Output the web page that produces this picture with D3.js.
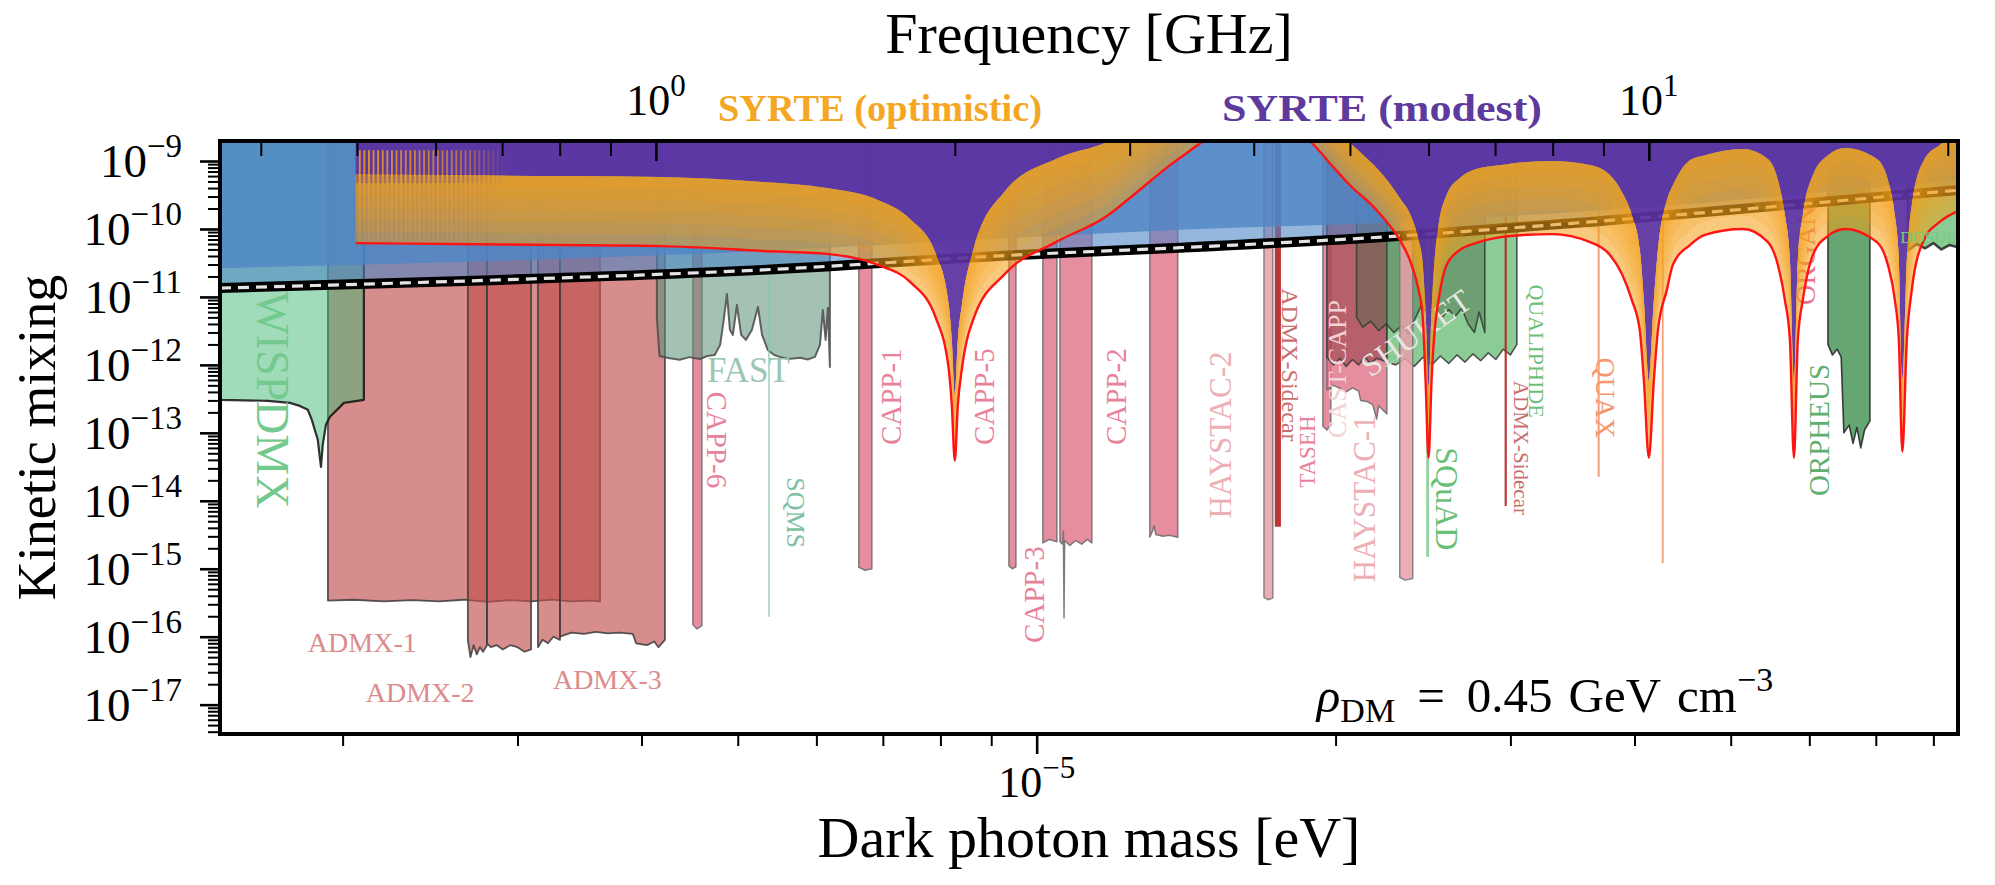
<!DOCTYPE html>
<html>
<head>
<meta charset="utf-8">
<script src="https://cdn.jsdelivr.net/npm/d3@7"></script>
<style>
html,body{margin:0;padding:0;background:#fff;}
svg{display:block;}
text{font-family:"Liberation Serif","Times New Roman",serif;}
</style>
</head>
<body>
<svg id="chart" width="1995" height="885"></svg>
<script>
// ================= DATA =================
const EV_PER_GHZ = 4.135667e-6;
const massDomain = [1.505e-6, 8.47e-5];
const mixingDomain = [3.7e-18, 1.97e-9];
const yMajorExponents = [-9,-10,-11,-12,-13,-14,-15,-16,-17];
const xMajorExponents = [-5];
const topMajorExponents = [0, 1];

// experiment lower boundaries: [mass eV, kinetic mixing]
const admx1 = [[1.933e-6,3.4e-16],[2.05e-6,3.5e-16],[2.2e-6,3.3e-16],[2.35e-6,3.45e-16],[2.5e-6,3.3e-16],[2.65e-6,3.5e-16],[2.8e-6,3.25e-16],[2.95e-6,3.45e-16],[3.1e-6,3.3e-16],[3.25e-6,3.5e-16],[3.4e-6,3.3e-16],[3.55e-6,3.4e-16],[3.633e-6,3.3e-16]];
const admx2a = [[2.674e-6,9e-17],[2.69e-6,5e-17],[2.71e-6,7.5e-17],[2.73e-6,5.5e-17],[2.75e-6,7e-17],[2.77e-6,6e-17],[2.795e-6,7.5e-17]];
const admx2b = [[2.795e-6,8e-17],[2.82e-6,7e-17],[2.86e-6,7.5e-17],[2.9e-6,6.5e-17],[2.95e-6,7.5e-17],[3.0e-6,7e-17],[3.05e-6,6e-17],[3.096e-6,6.5e-17]];
const admx3a = [[3.146e-6,7e-17],[3.18e-6,9e-17],[3.22e-6,8e-17],[3.26e-6,1.0e-16],[3.311e-6,9e-17]];
const admx3b = [[3.311e-6,1.0e-16],[3.4e-6,1.15e-16],[3.5e-6,1.1e-16],[3.6e-6,1.18e-16],[3.7e-6,1.12e-16],[3.8e-6,1.15e-16],[3.92e-6,1.1e-16],[3.95e-6,8e-17],[4.05e-6,7.5e-17],[4.12e-6,8.5e-17],[4.16e-6,7e-17],[4.223e-6,9e-17]];
const wispdmx = [[1.505e-6,3.06e-13],[1.682e-6,2.96e-13],[1.77e-6,2.76e-13],[1.811e-6,2.49e-13],[1.845e-6,2.18e-13],[1.862e-6,1.55e-13],[1.888e-6,7.9e-14],[1.902e-6,3.16e-14],[1.91e-6,6.7e-14],[1.924e-6,1.31e-13],[1.942e-6,1.72e-13],[1.983e-6,2.33e-13],[2.006e-6,2.76e-13],[2.101e-6,3.06e-13]];
const capp6 = [[4.506e-6,1.5e-16],[4.55e-6,1.3e-16],[4.601e-6,1.45e-16]];
const fast = [[4.145e-6,4.9e-12],[4.17e-6,1.35e-12],[4.27e-6,1.25e-12],[4.37e-6,1.19e-12],[4.47e-6,1.3e-12],[4.58e-6,1.22e-12],[4.66e-6,1.35e-12],[4.74e-6,1.4e-12],[4.80e-6,1.97e-12],[4.84e-6,4.6e-12],[4.876e-6,1.1e-11],[4.91e-6,3.3e-12],[4.944e-6,2.76e-12],[4.99e-6,7.6e-12],[5.04e-6,2.76e-12],[5.095e-6,2.33e-12],[5.167e-6,3.3e-12],[5.24e-6,7.1e-12],[5.29e-6,2.76e-12],[5.36e-6,1.66e-12],[5.44e-6,1.4e-12],[5.51e-6,1.31e-12],[5.62e-6,1.22e-12],[5.78e-6,1.27e-12],[5.88e-6,1.2e-12],[5.98e-6,1.31e-12],[6.05e-6,1.97e-12],[6.09e-6,6.4e-12],[6.13e-6,2.33e-12],[6.163e-6,6.9e-12],[6.191e-6,9.3e-13]];
const sqms = [[5.368e-6,1.97e-16],[5.384e-6,1.97e-16]];
const capp1 = [[6.62e-6,1.05e-15],[6.72e-6,0.95e-15],[6.824e-6,1.0e-15]];
const capp5 = [[9.377e-6,1.1e-15],[9.45e-6,1.0e-15],[9.53e-6,1.07e-15]];
const capp3a = [[1.0145e-5,2.4e-15],[1.03e-5,2.7e-15],[1.048e-5,2.5e-15]];
const capp3b = [[1.0555e-5,2.5e-15],[1.062e-5,2.3e-15],[1.064e-5,3.6e-15],[1.0655e-5,1.9e-16],[1.067e-5,2.6e-15],[1.08e-5,2.2e-15],[1.095e-5,2.6e-15],[1.11e-5,2.3e-15],[1.125e-5,2.7e-15],[1.1365e-5,2.4e-15]];
const capp2 = [[1.30e-5,2.9e-15],[1.308e-5,3.6e-15],[1.313e-5,4.3e-15],[1.318e-5,3.2e-15],[1.34e-5,3.0e-15],[1.36e-5,3.1e-15],[1.387e-5,2.9e-15]];
const haystac2 = [[1.694e-5,3.8e-16],[1.71e-5,3.5e-16],[1.729e-5,3.7e-16]];
const sidecar1 = [[1.737e-5,4.15e-15],[1.762e-5,4.15e-15]];
const taseh = [[1.942e-5,1.25e-13],[1.96e-5,1.1e-13],[1.978e-5,1.3e-13]];
const castCapp = [[1.96e-5,4.3e-13],[1.99e-5,5.0e-13],[2.02e-5,4.5e-13],[2.05e-5,4.0e-13],[2.08e-5,4.6e-13],[2.11e-5,4.1e-13],[2.12e-5,3.0e-13],[2.15e-5,2.9e-13],[2.18e-5,2.6e-13],[2.20e-5,1.6e-13],[2.21e-5,2.5e-13],[2.23e-5,2.2e-13],[2.2524e-5,1.9e-13]];
const castCappUpper = [[1.96e-5,1.3e-12],[1.99e-5,1.0e-12],[2.02e-5,1.25e-12],[2.05e-5,0.95e-12],[2.08e-5,1.2e-12],[2.11e-5,1.0e-12],[2.14e-5,1.3e-12],[2.17e-5,1.05e-12],[2.20e-5,1.25e-12],[2.2524e-5,1.1e-12]];
const greenBand = [[2.2524e-5,1.1e-12],[2.3e-5,1.0e-12],[2.35e-5,1.25e-12],[2.4e-5,0.95e-12],[2.45e-5,1.3e-12],[2.5e-5,1.0e-12],[2.55e-5,1.35e-12],[2.6e-5,1.05e-12],[2.65e-5,1.4e-12],[2.7e-5,1.1e-12],[2.75e-5,1.45e-12],[2.8e-5,1.15e-12],[2.85e-5,1.5e-12],[2.9e-5,1.2e-12],[2.95e-5,1.7e-12],[3.0e-5,1.4e-12],[3.045e-5,2.0e-12]];
const shuket = [[2.10e-5,5.0e-12],[2.13e-5,3.6e-12],[2.17e-5,4.4e-12],[2.21e-5,3.2e-12],[2.25e-5,4.0e-12],[2.29e-5,3.0e-12],[2.33e-5,3.8e-12],[2.37e-5,2.8e-12],[2.40e-5,4.5e-12],[2.44e-5,7.5e-12],[2.48e-5,5.5e-12],[2.52e-5,7.0e-12],[2.56e-5,5.0e-12],[2.60e-5,6.5e-12],[2.64e-5,5.2e-12],[2.68e-5,6.8e-12],[2.72e-5,4.0e-12],[2.76e-5,3.0e-12],[2.79e-5,6.0e-12],[2.827e-5,3.0e-12]];
const haystac1 = [[2.321e-5,7.5e-16],[2.35e-5,6.8e-16],[2.392e-5,7.2e-16]];
const squad = [[2.468e-5,1.5e-15],[2.484e-5,1.5e-15]];
const sidecar2 = [[2.96e-5,8.4e-15],[2.975e-5,8.4e-15]];
const quax1 = [[3.672e-5,2.25e-14],[3.69e-5,2.25e-14]];
const quax2 = [[4.262e-5,1.22e-15],[4.28e-5,1.22e-15]];
const orpheus = [[6.265e-5,2.0e-12],[6.33e-5,1.4e-12],[6.4e-5,1.7e-12],[6.46e-5,1.3e-12],[6.5e-5,1.0e-13],[6.58e-5,1.3e-13],[6.64e-5,7e-14],[6.7e-5,1.2e-13],[6.76e-5,6e-14],[6.82e-5,1.1e-13],[6.905e-5,1.5e-13]];
const dosue = [[7.54e-5,4.8e-11],[7.7e-5,6.0e-11],[7.85e-5,5.2e-11],[8.0e-5,6.2e-11],[8.15e-5,5.0e-11],[8.3e-5,5.8e-11],[8.5e-5,5.3e-11]];

// astrophysical / cosmological bound (blue) edges
const blueBandEdge = [[1.505e-6,1.35e-11],[2.88e-6,1.78e-11],[5.30e-6,2.5e-11],[9.57e-6,4.15e-11],[1.394e-5,5.3e-11],[2.321e-5,7.9e-11],[3.607e-5,1.27e-10],[8.5e-5,3.75e-10]];
const blueUpperEdge = [[1.505e-6,2.67e-11],[2.88e-6,3.4e-11],[5.30e-6,4.75e-11],[9.57e-6,7.4e-11],[1.394e-5,9.7e-11],[2.321e-5,1.27e-10],[3.607e-5,1.84e-10],[8.5e-5,5.3e-10]];

// SYRTE projection (frequency GHz)
const syrteFreqGHz = [0.4985,0.6204,0.8005,1.014,1.2814,1.4864,1.6733,1.8029,1.914,1.972,1.986,2.0,2.014,2.033,2.09,2.2463,2.5283,2.8459,3.0014,3.294,3.5469,3.9656,4.5566,4.8395,5.001,5.2845,5.4462,5.6131,5.754,5.862,5.917,5.958,6.0,6.042,6.084,6.141,6.256,6.4512,6.6953,7.0948,7.535,7.9875,8.7232,9.1363,9.3954,9.6136,9.7936,9.8846,10.0,10.117,10.211,10.426,10.572,10.997,11.387,12.436,13.179,13.488,13.709,13.869,14.0,14.126,14.291,14.628,15.148,15.758,16.967,17.407,17.691,17.855,18.0,18.188,18.4,18.922,19.633,20.6];
const syrteOptimistic = [6.2e-11,6.0e-11,5.8e-11,5.6e-11,4.75e-11,4.3e-11,2.96e-11,1.66e-11,4.9e-12,8.7e-13,2.58e-13,3.9e-14,2.58e-13,8.7e-13,4.9e-12,2.18e-11,6.4e-11,1.55e-10,2.86e-10,8.7e-10,1.9e-9,6.7e-9,1.97e-9,7.4e-10,4.4e-10,2.1e-10,1.27e-10,6.9e-11,3.27e-11,1.27e-11,5.4e-12,6.0e-13,4.3e-14,6.0e-13,3.16e-12,9.0e-12,2.96e-11,4.9e-11,6.2e-11,7.6e-11,8.2e-11,8.4e-11,6.4e-11,4.15e-11,2.18e-11,9.0e-12,3.16e-12,6.0e-13,4.3e-14,6.0e-13,3.16e-12,1.27e-11,2.96e-11,5.8e-11,8.2e-11,1.0e-10,6.4e-11,2.96e-11,9.0e-12,2.33e-12,4.3e-14,2.33e-12,9.0e-12,4.15e-11,7.9e-11,1.0e-10,6.4e-11,2.96e-11,9.0e-12,2.33e-12,5.3e-14,2.33e-12,1.27e-11,6.9e-11,1.27e-10,1.9e-10];
const syrteModest = [6.4e-10,6.2e-10,6.0e-10,5.8e-10,4.9e-10,4.0e-10,2.67e-10,1.4e-10,4.3e-11,7.6e-12,2.33e-12,3.6e-13,2.33e-12,7.6e-12,5.3e-11,3.6e-10,1.07e-9,1.9e-9,2.86e-9,7.9e-9,1.55e-8,6.0e-8,1.55e-8,2.86e-9,1.84e-9,8.7e-10,5.3e-10,2.86e-10,1.61e-10,6.9e-11,3.27e-11,6.4e-12,4.6e-13,6.4e-12,3.5e-11,1.15e-10,3.16e-10,5.6e-10,7.6e-10,8.7e-10,9.7e-10,1.0e-9,8.7e-10,6.2e-10,3.5e-10,1.61e-10,4.9e-11,9.0e-12,5.6e-13,9.0e-12,4.9e-11,2.67e-10,4.4e-10,1.03e-9,1.22e-9,1.5e-9,1.07e-9,5.3e-10,1.61e-10,3.5e-11,5.6e-13,3.5e-11,1.61e-10,6.2e-10,1.22e-9,1.55e-9,1.07e-9,5.3e-10,1.61e-10,3.5e-11,6.2e-13,3.5e-11,2.25e-10,1.03e-9,1.72e-9,2.49e-9];
const syrteCombEndGHz = 0.71;

// ================= STYLES =================
const styles = {
  admx:   {fill:"#C0504D", op:0.65, stroke:"#3c3c3c", sw:1.8},
  wisp:   {fill:"#41B973", op:0.5,  stroke:"#111",    sw:2.2},
  fast:   {fill:"#5A8F74", op:0.55, stroke:"#4a4a4a", sw:2},
  capp:   {fill:"#E07088", op:0.8,  stroke:"#6a6a6a", sw:1.5},
  sqms:   {fill:"#86C8AA", op:1,    stroke:null},
  hay:    {fill:"#E8A0A8", op:0.85, stroke:"#777",    sw:1.5},
  side:   {fill:"#B52525", op:0.92, stroke:null},
  castUp: {fill:"#7A2A2A", op:0.45, stroke:"#3a3a3a", sw:1.6},
  green:  {fill:"#4CAF5E", op:0.65, stroke:"#3a3a3a", sw:1.6},
  shuket: {fill:"#4A6B4A", op:0.45, stroke:"#2f3f2f", sw:1.6},
  squad:  {fill:"#8ED3A0", op:1,    stroke:null},
  quax:   {fill:"#F5966E", op:0.9,  stroke:null},
  orph:   {fill:"#3E9050", op:0.8,  stroke:"#222",    sw:1.6},
  dosue:  {fill:"#4CAF5E", op:0.65, stroke:"#222",    sw:2.5}
};
const experiments = [
  {data:admx1, st:"admx"},{data:admx2a, st:"admx"},{data:admx2b, st:"admx"},
  {data:admx3a, st:"admx"},{data:admx3b, st:"admx"},{data:wispdmx, st:"wisp"},
  {data:capp6, st:"capp"},{data:fast, st:"fast"},{data:sqms, st:"sqms"},
  {data:capp1, st:"capp"},{data:capp5, st:"capp"},{data:capp3a, st:"capp"},{data:capp3b, st:"capp"},
  {data:capp2, st:"capp"},{data:haystac2, st:"hay"},{data:sidecar1, st:"side"},
  {data:taseh, st:"capp"},{data:castCapp, st:"capp"},{data:castCappUpper, st:"castUp"},
  {data:greenBand, st:"green"},{data:shuket, st:"shuket"},{data:haystac1, st:"hay"},
  {data:squad, st:"squad"},{data:sidecar2, st:"side"},{data:quax1, st:"quax"},{data:quax2, st:"quax"},
  {data:orpheus, st:"orph"},{data:dosue, st:"dosue"}
];
const annotations = [
  {text:"WISPDMX", m:1.70e-6, eps:3.06e-13, rot:90, size:46, color:"#74C98F"},
  {text:"ADMX-1", m:1.845e-6, eps:6.0e-17, rot:0, size:28, color:"#DC8C8C", anchor:"start", base:"auto"},
  {text:"ADMX-2", m:2.11e-6, eps:1.1e-17, rot:0, size:28, color:"#DC8C8C", anchor:"start", base:"auto"},
  {text:"ADMX-3", m:3.257e-6, eps:1.72e-17, rot:0, size:28, color:"#DC8C8C", anchor:"start", base:"auto"},
  {text:"FAST", m:4.655e-6, eps:5.6e-13, rot:0, size:35, color:"#9CC6B2", anchor:"start", base:"auto"},
  {text:"CAPP-6", m:4.764e-6, eps:7.9e-14, rot:90, size:29, color:"#E8829A"},
  {text:"SQMS", m:5.722e-6, eps:6.7e-15, rot:90, size:26, color:"#7CC0A4"},
  {text:"CAPP-1", m:7.132e-6, eps:3.4e-13, rot:-90, size:29, color:"#E8829A"},
  {text:"CAPP-5", m:8.849e-6, eps:3.4e-13, rot:-90, size:29, color:"#E8829A"},
  {text:"CAPP-2", m:1.2018e-5, eps:3.4e-13, rot:-90, size:29, color:"#E8829A"},
  {text:"CAPP-3", m:9.94e-6, eps:4.15e-16, rot:-90, size:29, color:"#E8829A"},
  {text:"HAYSTAC-2", m:1.533e-5, eps:9.3e-14, rot:-90, size:31, color:"#EBAFB4"},
  {text:"ADMX-Sidecar", m:1.80e-5, eps:1.0e-12, rot:90, size:24, color:"#C86E6E"},
  {text:"TASEH", m:1.876e-5, eps:5.3e-14, rot:-90, size:23, color:"#E8829A"},
  {text:"CAST-CAPP", m:2.011e-5, eps:8.7e-13, rot:-90, size:26, color:"#F2D2D4"},
  {text:"HAYSTAC-1", m:2.141e-5, eps:1.07e-14, rot:-90, size:31, color:"#EBAFB4"},
  {text:"SHUKET", m:2.409e-5, eps:2.96e-12, rot:-35, size:32, color:"#E6E6E0"},
  {text:"QUALIPHIDE", m:3.19e-5, eps:1.6e-12, rot:90, size:22, color:"#6FBF7A"},
  {text:"ADMX-Sidecar", m:3.073e-5, eps:6.0e-14, rot:90, size:21, color:"#C86E6E"},
  {text:"SQuAD", m:2.589e-5, eps:1.07e-14, rot:90, size:32, color:"#6CBF78"},
  {text:"QUAX", m:3.744e-5, eps:3.27e-13, rot:90, size:28, color:"#F5966E"},
  {text:"ORGAN", m:5.95e-5, eps:7.6e-12, rot:-90, size:28, color:"#E8708A", anchor:"start"},
  {text:"ORPHEUS", m:6.134e-5, eps:1.1e-13, rot:-90, size:29, color:"#5FAF6E"},
  {text:"DOSUE", m:8.45e-5, eps:7.4e-11, rot:0, size:17, color:"#6FCF7E", anchor:"end", onTop:true}
];

// ================= DRAW =================
const svg = d3.select("#chart");
const M = {left:220, right:1958, top:141, bottom:734};
const x = d3.scaleLog().domain(massDomain).range([M.left, M.right]);
const y = d3.scaleLog().domain(mixingDomain).range([M.bottom, M.top]);
const xf = d3.scaleLog().domain(massDomain.map(m => m/EV_PER_GHZ)).range([M.left, M.right]);
const EPS_TOP = 1e-6;

const defs = svg.append("defs");
defs.append("clipPath").attr("id","clip").append("rect")
  .attr("x",M.left).attr("y",M.top).attr("width",M.right-M.left).attr("height",M.bottom-M.top);

const plot = svg.append("g").attr("clip-path","url(#clip)");
const line = d3.line().x(d => x(d[0])).y(d => y(d[1]));

// experiments
experiments.forEach(e => {
  const st = styles[e.st];
  const n = e.data.length;
  const pts = [[e.data[0][0], EPS_TOP], ...e.data, [e.data[n-1][0], EPS_TOP]];
  plot.append("path").attr("d", line(pts) + "Z")
    .attr("fill", st.fill).attr("fill-opacity", st.op);
  if (st.stroke) {
    plot.append("path").attr("d", line(pts)).attr("fill","none")
      .attr("stroke", st.stroke).attr("stroke-width", st.sw).attr("stroke-opacity",0.85)
      .attr("stroke-linejoin","round");
  }
});

function drawLabel(a){
  plot.append("text")
    .attr("transform", `translate(${x(a.m)},${y(a.eps)}) rotate(${a.rot})`)
    .attr("text-anchor", a.anchor || "middle")
    .attr("dominant-baseline", a.base || "central")
    .attr("font-size", a.size).attr("fill", a.color)
    .text(a.text);
}
annotations.filter(a => !a.onTop).forEach(drawLabel);

// blue excluded region
const blueArea = d3.area().x(d => x(d[0])).y0(y(EPS_TOP)).y1(d => y(d[1])).curve(d3.curveMonotoneX);
plot.append("path").attr("d", blueArea(blueBandEdge)).attr("fill","#4F86C6").attr("fill-opacity",0.6);
plot.append("path").attr("d", blueArea(blueUpperEdge)).attr("fill","#4F86C6").attr("fill-opacity",0.8);
const edgeLine = d3.line().x(d => x(d[0])).y(d => y(d[1])).curve(d3.curveMonotoneX);
plot.append("path").attr("d", edgeLine(blueBandEdge)).attr("fill","none").attr("stroke","#000").attr("stroke-width",10);
plot.append("path").attr("d", edgeLine(blueBandEdge)).attr("fill","none").attr("stroke","#e4e4e4")
  .attr("stroke-width",3.2).attr("stroke-dasharray","11,7");

// SYRTE
const sy = syrteFreqGHz.map((f,i) => ({px: x(f*EV_PER_GHZ), opt: y(syrteOptimistic[i]), mod: y(syrteModest[i])}));
const cv = d3.curveMonotoneX;
plot.append("path")
  .attr("d", d3.area().x(d=>d.px).y0(M.top-300).y1(d=>d.mod).curve(cv)(sy))
  .attr("fill","#5B32A0").attr("fill-opacity",0.93);
plot.append("path")
  .attr("d", d3.area().x(d=>d.px).y0(d=>d.opt).y1(d=>d.mod).curve(cv)(sy))
  .attr("fill","#F5A21A").attr("fill-opacity",0.45);
const NL = 6;
for (let k = 1; k <= NL; k++) {
  plot.append("path")
    .attr("d", d3.area().x(d=>d.px).y0(d=>d.mod + (d.opt-d.mod)*k/NL).y1(d=>d.mod).curve(cv)(sy))
    .attr("fill","#F5A21A").attr("fill-opacity",0.2);
}
// comb pattern in low-frequency part
const p1 = defs.append("pattern").attr("id","combO").attr("patternUnits","userSpaceOnUse").attr("width",4.6).attr("height",40);
p1.append("rect").attr("width",1.9).attr("height",40).attr("fill","#F5A21A");
const p2 = defs.append("pattern").attr("id","combP").attr("patternUnits","userSpaceOnUse").attr("width",4.6).attr("height",40);
p2.append("rect").attr("x",2.2).attr("width",2.0).attr("height",40).attr("fill","#5B32A0");
const fade = defs.append("linearGradient").attr("id","combFade");
fade.append("stop").attr("offset",0).attr("stop-color","#fff").attr("stop-opacity",1);
fade.append("stop").attr("offset",0.65).attr("stop-color","#fff").attr("stop-opacity",0.7);
fade.append("stop").attr("offset",1).attr("stop-color","#fff").attr("stop-opacity",0);
const cx0 = x(syrteFreqGHz[0]*EV_PER_GHZ), cx1 = x(syrteCombEndGHz*EV_PER_GHZ), ym0 = sy[0].mod;
const mask = defs.append("mask").attr("id","combMask").attr("maskUnits","userSpaceOnUse")
  .attr("x",cx0).attr("y",M.top).attr("width",cx1-cx0).attr("height",200);
mask.append("rect").attr("x",cx0).attr("y",M.top).attr("width",cx1-cx0).attr("height",200).attr("fill","url(#combFade)");
plot.append("rect").attr("x",cx0).attr("y",ym0-24).attr("width",cx1-cx0).attr("height",26)
  .attr("fill","url(#combO)").attr("opacity",0.85).attr("mask","url(#combMask)");
plot.append("rect").attr("x",cx0).attr("y",ym0-1).attr("width",cx1-cx0).attr("height",10)
  .attr("fill","url(#combP)").attr("opacity",0.6).attr("mask","url(#combMask)");
plot.append("rect").attr("x",cx0).attr("y",ym0+9).attr("width",cx1-cx0).attr("height",sy[0].opt-ym0-10)
  .attr("fill","url(#combP)").attr("opacity",0.12).attr("mask","url(#combMask)");
// red optimistic line
plot.append("path")
  .attr("d", d3.line().x(d=>d.px).y(d=>d.opt).curve(cv)(sy))
  .attr("fill","none").attr("stroke","#FF1414").attr("stroke-width",2.4);

annotations.filter(a => a.onTop).forEach(drawLabel);

// ================= AXES =================
function minorTicks(domain){
  const out = [];
  const e0 = Math.floor(Math.log10(domain[0])), e1 = Math.ceil(Math.log10(domain[1]));
  for (let e = e0; e <= e1; e++) for (let k = 2; k <= 9; k++) {
    const v = k*Math.pow(10,e);
    if (v >= domain[0] && v <= domain[1]) out.push(v);
  }
  return out;
}
function styleAxis(g, w){
  g.select(".domain").remove();
  g.selectAll(".tick line").attr("stroke","#000").attr("stroke-width",w);
  g.selectAll(".tick text").remove();
}
const axes = svg.append("g");
axes.append("g").attr("transform",`translate(${M.left},0)`)
  .call(d3.axisLeft(y).tickValues(minorTicks(mixingDomain)).tickSize(12)).call(g=>styleAxis(g,2));
axes.append("g").attr("transform",`translate(${M.left},0)`)
  .call(d3.axisLeft(y).tickValues(yMajorExponents.map(e=>Math.pow(10,e))).tickSize(20)).call(g=>styleAxis(g,2.6));
axes.append("g").attr("transform",`translate(0,${M.bottom})`)
  .call(d3.axisBottom(x).tickValues(minorTicks(massDomain)).tickSize(12)).call(g=>styleAxis(g,2));
axes.append("g").attr("transform",`translate(0,${M.bottom})`)
  .call(d3.axisBottom(x).tickValues(xMajorExponents.map(e=>Math.pow(10,e))).tickSize(20)).call(g=>styleAxis(g,2.6));
axes.append("g").attr("transform",`translate(0,${M.top})`)
  .call(d3.axisTop(xf).tickValues(minorTicks(xf.domain())).tickSize(-15)).call(g=>styleAxis(g,2));
axes.append("g").attr("transform",`translate(0,${M.top})`)
  .call(d3.axisTop(xf).tickValues(topMajorExponents.map(e=>Math.pow(10,e))).tickSize(-20)).call(g=>styleAxis(g,2.6));
axes.append("rect").attr("x",M.left).attr("y",M.top).attr("width",M.right-M.left).attr("height",M.bottom-M.top)
  .attr("fill","none").attr("stroke","#000").attr("stroke-width",4);

function powText(sel, e, base, sup, supDy){
  sel.append("tspan").attr("font-size",base).text("10");
  sel.append("tspan").attr("font-size",sup).attr("dy",supDy).text(e < 0 ? "\u2212" + (-e) : String(e));
}
yMajorExponents.forEach(e => {
  const t = axes.append("text").attr("x", M.left-38).attr("y", y(Math.pow(10,e)) + 16)
    .attr("text-anchor","end").attr("fill","#000");
  powText(t, e, 47, 33, -20);
});
xMajorExponents.forEach(e => {
  const t = axes.append("text").attr("x", x(Math.pow(10,e))).attr("y", M.bottom + 63)
    .attr("text-anchor","middle").attr("fill","#000");
  powText(t, e, 44, 31, -19);
});
topMajorExponents.forEach(e => {
  const t = axes.append("text").attr("x", xf(Math.pow(10,e))).attr("y", M.top - 26)
    .attr("text-anchor","middle").attr("fill","#000");
  powText(t, e, 44, 31, -19);
});

// axis titles
const cxPlot = (M.left + M.right)/2;
svg.append("text").attr("x",cxPlot).attr("y",53).attr("text-anchor","middle").attr("font-size",58).text("Frequency [GHz]");
svg.append("text").attr("x",cxPlot).attr("y",857).attr("text-anchor","middle").attr("font-size",58).text("Dark photon mass [eV]");
svg.append("text").attr("transform",`translate(55,${(M.top+M.bottom)/2}) rotate(-90)`).attr("text-anchor","middle")
  .attr("font-size",54).text("Kinetic mixing");

// SYRTE legend labels
svg.append("text").attr("x",718).attr("y",M.top-20).attr("font-size",38).attr("font-weight","bold")
  .attr("textLength",324).attr("lengthAdjust","spacingAndGlyphs")
  .attr("fill","#F5A623").text("SYRTE (optimistic)");
svg.append("text").attr("x",1222).attr("y",M.top-20).attr("font-size",38).attr("font-weight","bold")
  .attr("textLength",320).attr("lengthAdjust","spacingAndGlyphs")
  .attr("fill","#5E3A9E").text("SYRTE (modest)");

// rho_DM annotation
const rho = svg.append("text").attr("x", x(1.915e-5)).attr("y", y(7.9e-18)).attr("font-size",49).attr("fill","#000");
rho.append("tspan").attr("font-style","italic").text("\u03C1");
rho.append("tspan").attr("font-size",34).attr("dy",10).text("DM");
rho.append("tspan").attr("dy",-10).attr("dx",22).text("=");
rho.append("tspan").attr("dx",22).text("0.45");
rho.append("tspan").attr("dx",16).text("GeV");
rho.append("tspan").attr("dx",16).text("cm");
rho.append("tspan").attr("font-size",34).attr("dy",-21).text("\u22123");
</script>
</body>
</html>
